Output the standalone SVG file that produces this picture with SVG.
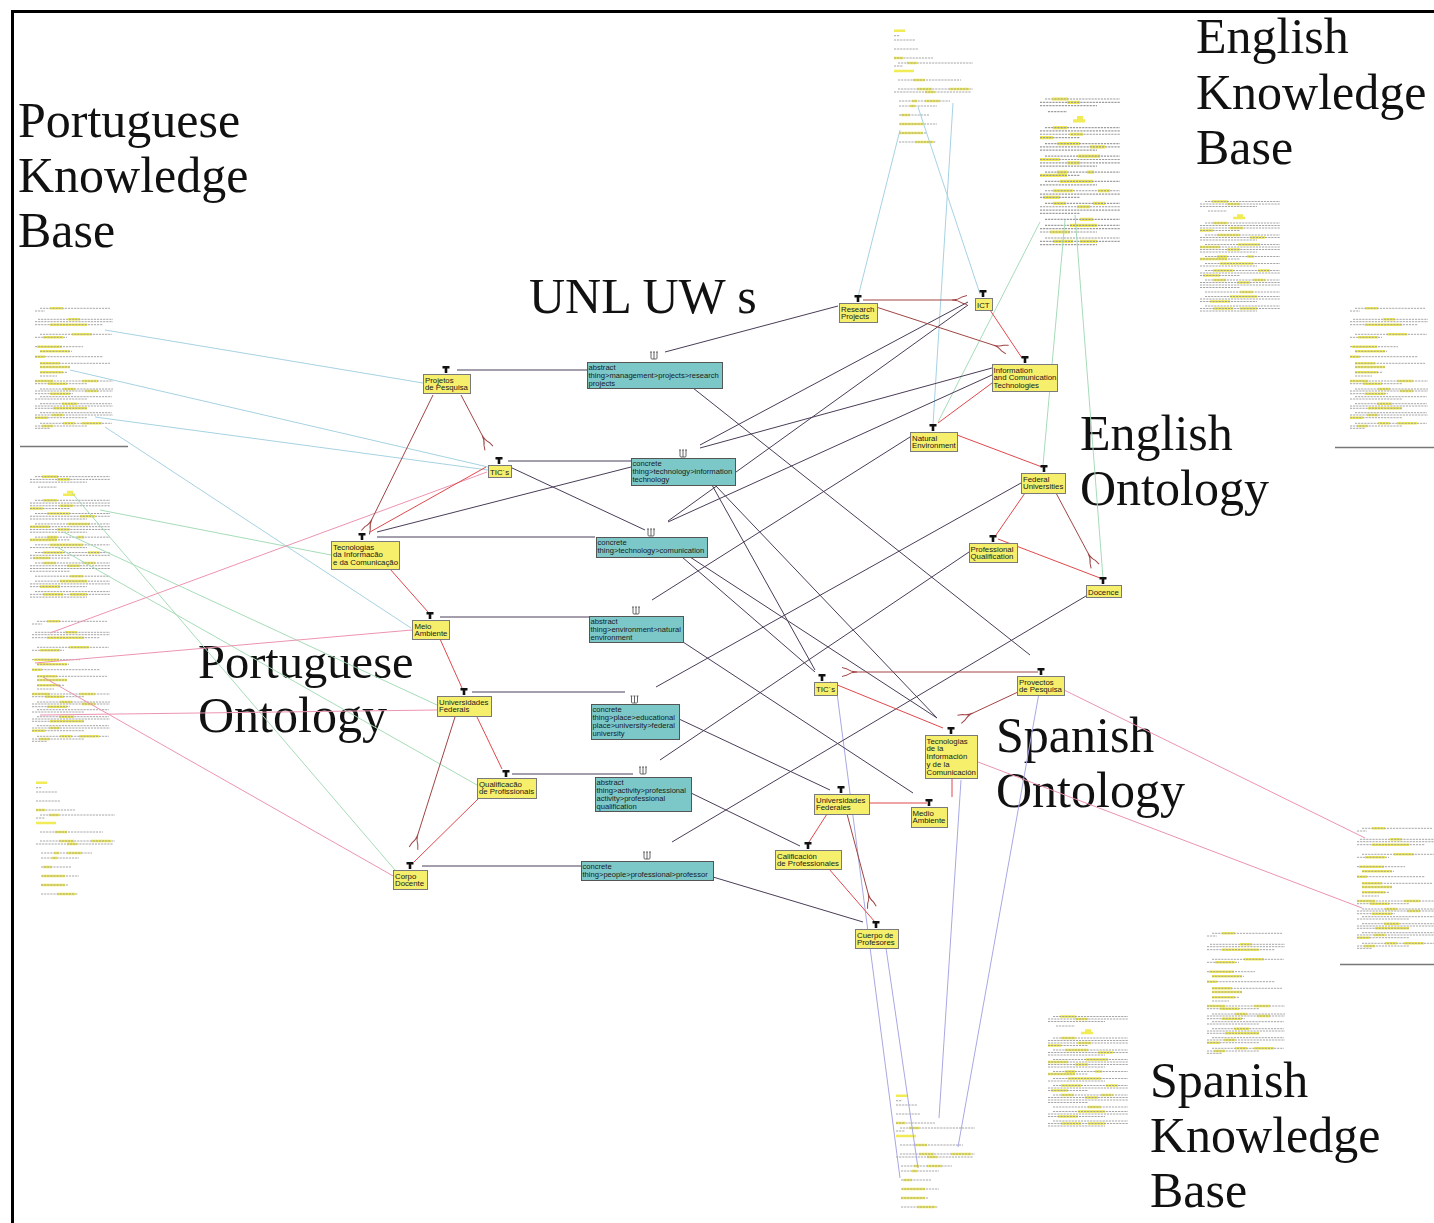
<svg xmlns="http://www.w3.org/2000/svg" xmlns:xlink="http://www.w3.org/1999/xlink" width="1434" height="1223" viewBox="0 0 1434 1223">
<style>
  .big{font-family:"Liberation Serif","Times New Roman",serif;font-size:50px;fill:#111}
  .nt{font-family:"Liberation Sans",Arial,sans-serif;font-size:7.8px;fill:#1a1a1a}
  .ut{font-family:"Liberation Sans",Arial,sans-serif;font-size:7.6px;fill:#1a1a1a}
  .yb{fill:#f5ef6c;stroke:#7a7a7a;stroke-width:1}
  .cb{fill:#7cc8c8;stroke:#555;stroke-width:1}
  .c{fill:none;stroke-width:1}
  .dk{stroke:#4a3d58}
  .rd{stroke:#e0484c}
  .dr{stroke:#a04444}
  .bl{stroke:#a6d2e2}
  .gr{stroke:#a6dcb8}
  .pk{stroke:#ec94b0}
  .lv{stroke:#a8a8e4}
  .tx{fill:none;stroke:#9c9c9c;stroke-width:0.9;stroke-dasharray:2.2 0.9}
  .hl{fill:none;stroke:#f1eb55;stroke-width:2.4}
  .sep{stroke:#777;stroke-width:1.5}
</style>
<defs>
  <!-- class (T) badge above concept boxes -->
  <path id="tee" d="M-3.5,-7.5h7v2.5h-2.2v4.5h-2.6v-4.5h-2.2z" fill="#111"/>
  <!-- UW badge above UNL boxes -->
  <path id="uw" d="M-3,-7v6q0,1 1,1h4q1,0 1,-1v-6M0,-7v7M-4,-7h2M-1,-7h2M2,-7h2" fill="none" stroke="#555" stroke-width="0.9"/>
  <!-- forked arrowhead used on hierarchy links -->
  <marker id="fork" viewBox="-1 -6 18 12" refX="0" refY="0" markerWidth="18" markerHeight="12" markerUnits="userSpaceOnUse" orient="auto">
    <path d="M0,0Q6,0 10,-3L15,-4.5M0,0Q6,0 10,3L15,4.5" fill="none" stroke="#a04444" stroke-width="1"/>
  </marker>
  <!-- knowledge base pages: list layout -->
  <g id="docA">
    <path class="hl" d="M1,2.7h11M1,30h9M14,35h10M1,43h20M20,52h12M24,61h15M56,61h20M32,64h10M19,73h5M32,73h15M17,78h5M8,87h9M7,96h23M6,105h24M22,114h18"/>
    <path class="tx" d="M1,7.7h6M1,12h21M1,21h24M1,30h39M5,35h75M1,38h9M5,52h63M5,61h75M1,64h77M6,73h51M6,78h38M6,87h30M6,96h38M6,105h27M6,114h37"/>
  </g>
  <!-- knowledge base pages: dense paragraphs -->
  <g id="docB">
    <path class="hl" d="M12,1.5h16M27,4h13M37,15.5h6M33,18h12M13,23h14M30,28h13M0,30.5h13M17,35h23M50,37.5h15M38,44.5h22M0,47h20M27,49.5h13M17,56.5h10M47,56.5h7M0,59h27M20,63.5h33M13,70.5h20M58,70.5h12M3,75.5h17M13,80h13M53,80h12M37,82.5h13M40,92h13M30,96.5h27M10,101.5h20M13,108.5h20M40,108.5h17"/>
    <path class="tx" d="M5,1.5h75M0,4h80M0,6.5h57M8,11h19M5,23h75M0,25.5h80M0,28h80M0,30.5h40M5,35h75M0,37.5h80M0,40h57M5,44.5h75M0,47h80M0,49.5h80M0,52h57M5,56.5h75M0,59h40M5,63.5h75M0,66h57M5,70.5h75M0,73h80M0,75.5h40M5,80h75M0,82.5h80M0,85h80M0,87.5h40M5,92h75M5,96.5h75M0,99h80M0,101.5h57M5,106h75M0,108.5h80M0,111h57"/>
  </g>
  <!-- knowledge base pages: mixed layout -->
  <g id="docD">
    <path class="hl" d="M17,3.3h13M35,14.3h12M17,19.7h37M39,29.3h20M10,32.3h20M4,41.7h25M7,46.3h30M2,51.7h10M7,58.3h20M7,62h30M7,67.3h23M2,76h18M49,76h16M15,78.7h19M30,84h12M52,86h13M17,88.7h20M29,98.7h15M20,103.3h34M19,110h11M2,112.7h13M30,118.3h12M49,118.3h20M9,121h11"/>
    <path class="tx" d="M7,3.3h70M2,6h10M5,14.3h75M2,16.7h78M2,19.7h68M7,29.3h72M2,32.3h32M2,41.7h48M7,46.3h32M2,51.7h68M7,58.3h70M7,62h30M7,67.3h27M7,71h17M2,76h78M2,78.7h52M7,84h73M2,86h78M2,88.7h38M7,91.7h72M2,94h52M7,98.7h72M2,101h78M2,103.3h52M7,107.7h72M2,110h78M2,112.7h52M7,118.3h72M2,121h52M2,123.3h15"/>
  </g>
</defs>

<rect width="1434" height="1223" fill="#fff"/>

<!-- frame -->
<path d="M12.5,1223V11.5H1434" fill="none" stroke="#000" stroke-width="3"/>

<!-- knowledge base documents -->
<g id="knowledge-bases">
  <use href="#docD" x="33" y="305"/>
  <path class="sep" d="M20,446.5H128"/>
  <use href="#docB" transform="translate(30,475) scale(1,1.1)"/>
  <use href="#docD" x="30" y="618"/>
  <use href="#docA" x="35" y="780"/>
  <use href="#docA" x="893" y="28"/>
  <use href="#docB" transform="translate(1040,97) scale(1,1.33)"/>
  <use href="#docB" x="1200" y="200"/>
  <use href="#docD" x="1348" y="305"/>
  <path class="sep" d="M1335,447.5H1434"/>
  <use href="#docD" x="1355" y="825"/>
  <path class="sep" d="M1340,964.5H1434"/>
  <use href="#docD" x="1205" y="930"/>
  <use href="#docB" x="1048" y="1015"/>
  <use href="#docA" x="895" y="1093"/>
</g>

<!-- section titles -->
<g id="titles">
  <text class="big" x="18" y="137">Portuguese</text>
  <text class="big" x="18" y="192">Knowledge</text>
  <text class="big" x="18" y="247">Base</text>
  <text class="big" x="1196" y="53">English</text>
  <text class="big" x="1196" y="109">Knowledge</text>
  <text class="big" x="1196" y="164">Base</text>
  <text class="big" x="529" y="313">UNL UW s</text>
  <text class="big" x="1080" y="450">English</text>
  <text class="big" x="1080" y="505">Ontology</text>
  <text class="big" x="198" y="678" style="font-size:48.5px">Portuguese</text>
  <text class="big" x="198" y="732">Ontology</text>
  <text class="big" x="996" y="752">Spanish</text>
  <text class="big" x="996" y="807">Ontology</text>
  <text class="big" x="1150" y="1097">Spanish</text>
  <text class="big" x="1150" y="1152">Knowledge</text>
  <text class="big" x="1150" y="1207">Base</text>
</g>

<!-- connectors -->
<g id="connectors" class="c">
  <!-- knowledge base annotations -->
  <path class="bl" d="M105,330L423,383M70,370L488,467M95,417L488,470M105,427L411,628M900,130L858,297M918,107L980,294M953,103L933,425"/>
  <path class="gr" d="M100,510L331,555M63,532L437,705M57,547L477,785M72,493L395,870M1040,222L938,422M1065,220L1043,465M1075,215L1103,578"/>
  <path class="pk" d="M50,633L487,472M35,663L412,630M40,715L437,710M43,677L395,877M1064,690L1365,838M978,762L1362,908"/>
  <path class="lv" d="M837,693L900,1178M1039,693L958,1147M961,780L939,1118M886,948L918,1168"/>
  <!-- concept to UW mappings -->
  <path class="dk" d="M457,370H587M508,461H631M377,537H595M440,617H589M472,692H625M512,774H633M422,866H581M510,467L645,530M377,532L631,467"/>
  <path class="dk" d="M665,352L838,306M700,445L968,302M700,448L992,368M668,521L968,305M668,522L992,375M652,600L910,437M656,687L1021,483M660,760L969,552M672,842L1086,596"/>
  <path class="dk" d="M693,388L1030,655M712,485L815,670M715,485L937,718M682,557L815,672M690,557L937,718M683,642L913,793M679,719L830,790M691,793L800,846M713,877L863,922"/>
  <!-- ontology hierarchy -->
  <path class="rd" d="M486,467L370,532M390,569L428,612M440,639L462,688M477,717L502,769M479,798L414,862"/>
  <path class="rd" d="M990,310L1022,358M992,383L938,423M957,435L1042,467M1025,493L996,535M998,539L1100,578"/>
  <path class="rd" d="M830,682L943,728M952,778V797M869,803H927M827,814L809,842M829,869L875,922"/>
  <path class="dr" marker-end="url(#fork)" d="M433,395L372,519"/>
  <path class="dr" marker-end="url(#fork)" d="M461,395L482,435"/>
  <path class="dr" marker-end="url(#fork)" d="M455,717L418,834"/>
  <path class="dr" marker-end="url(#fork)" d="M863,300H952"/>
  <path class="dr" marker-end="url(#fork)" d="M870,305L993,345"/>
  <path class="dr" marker-end="url(#fork)" d="M1056,493L1088,553"/>
  <path class="dr" marker-end="url(#fork)" d="M1038,672H857"/>
  <path class="dr" marker-end="url(#fork)" d="M1018,692L973,713"/>
  <path class="dr" marker-end="url(#fork)" d="M847,814L868,893"/>
</g>

<!-- UNL universal words -->
<g id="uw-research">
  <use href="#uw" x="654" y="359"/>
  <rect class="cb" x="587.5" y="362.5" width="135" height="26"/>
  <text class="ut" x="588.5" y="369.5">abstract<tspan x="588.5" dy="8">thing&gt;management&gt;projects&gt;research</tspan><tspan x="588.5" dy="8">projects</tspan></text>
</g>
<g id="uw-infotech">
  <use href="#uw" x="683" y="457"/>
  <rect class="cb" x="631.5" y="458.5" width="104" height="27"/>
  <text class="ut" x="632.5" y="465.5">concrete<tspan x="632.5" dy="8">thing&gt;technology&gt;information</tspan><tspan x="632.5" dy="8">technology</tspan></text>
</g>
<g id="uw-comunication">
  <use href="#uw" x="651" y="536"/>
  <rect class="cb" x="596.5" y="537.5" width="111" height="20"/>
  <text class="ut" x="597.5" y="544.5">concrete<tspan x="597.5" dy="8">thing&gt;technology&gt;comunication</tspan></text>
</g>
<g id="uw-environment">
  <use href="#uw" x="636" y="614"/>
  <rect class="cb" x="589.5" y="616.5" width="94" height="26"/>
  <text class="ut" x="590.5" y="623.5">abstract<tspan x="590.5" dy="8">thing&gt;environment&gt;natural</tspan><tspan x="590.5" dy="8">environment</tspan></text>
</g>
<g id="uw-university">
  <use href="#uw" x="634.5" y="703"/>
  <rect class="cb" x="591.5" y="704.5" width="88" height="35"/>
  <text class="ut" x="592.5" y="711.5">concrete<tspan x="592.5" dy="8">thing&gt;place&gt;educational</tspan><tspan x="592.5" dy="8">place&gt;university&gt;federal</tspan><tspan x="592.5" dy="8">university</tspan></text>
</g>
<g id="uw-qualification">
  <use href="#uw" x="643" y="774"/>
  <rect class="cb" x="595.5" y="777.5" width="96" height="34"/>
  <text class="ut" x="596.5" y="784.5">abstract<tspan x="596.5" dy="8">thing&gt;activity&gt;professional</tspan><tspan x="596.5" dy="8">activity&gt;professional</tspan><tspan x="596.5" dy="8">qualification</tspan></text>
</g>
<g id="uw-professor">
  <use href="#uw" x="647" y="859"/>
  <rect class="cb" x="581.5" y="861.5" width="132" height="19"/>
  <text class="ut" x="582.5" y="868.5">concrete<tspan x="582.5" dy="8">thing&gt;people&gt;professional&gt;professor</tspan></text>
</g>

<!-- Portuguese ontology -->
<g id="pt-projetos">
  <use href="#tee" x="446" y="373.5"/>
  <rect class="yb" x="423.5" y="374.5" width="47" height="19"/>
  <text class="nt" x="425" y="382.5">Projetos<tspan x="425" dy="7.8">de Pesquisa</tspan></text>
</g>
<g id="pt-tics">
  <use href="#tee" x="499" y="464.5"/>
  <rect class="yb" x="488.5" y="465.5" width="23" height="12"/>
  <text class="nt" x="490" y="474.5">TIC´s</text>
</g>
<g id="pt-tecnologias">
  <use href="#tee" x="362" y="540.5"/>
  <rect class="yb" x="331.5" y="541.5" width="68" height="28"/>
  <text class="nt" x="333" y="549.5">Tecnologias<tspan x="333" dy="7.8">da Informacão</tspan><tspan x="333" dy="7.8">e da Comunicação</tspan></text>
</g>
<g id="pt-meio">
  <use href="#tee" x="430" y="619.5"/>
  <rect class="yb" x="412.5" y="620.5" width="37" height="19"/>
  <text class="nt" x="414.5" y="628.5">Meio<tspan x="414.5" dy="7.8">Ambiente</tspan></text>
</g>
<g id="pt-universidades">
  <use href="#tee" x="464" y="695.5"/>
  <rect class="yb" x="437.5" y="696.5" width="54" height="20"/>
  <text class="nt" x="439" y="704.5">Universidades<tspan x="439" dy="7.8">Federais</tspan></text>
</g>
<g id="pt-qualificacao">
  <use href="#tee" x="506" y="777.5"/>
  <rect class="yb" x="477.5" y="778.5" width="59" height="20"/>
  <text class="nt" x="479" y="786.5">Qualificacão<tspan x="479" dy="7.8">de Profissionais</tspan></text>
</g>
<g id="pt-corpo">
  <use href="#tee" x="410" y="869.5"/>
  <rect class="yb" x="393.5" y="870.5" width="34" height="19"/>
  <text class="nt" x="395" y="878.5">Corpo<tspan x="395" dy="7.8">Docente</tspan></text>
</g>

<!-- English ontology -->
<g id="en-research">
  <use href="#tee" x="858" y="302.5"/>
  <rect class="yb" x="839.5" y="303.5" width="38" height="19"/>
  <text class="nt" x="841" y="311.5">Research<tspan x="841" dy="7.8">Projects</tspan></text>
</g>
<g id="en-ict">
  <use href="#tee" x="983" y="297.5"/>
  <rect class="yb" x="975.5" y="298.5" width="17" height="12"/>
  <text class="nt" x="977" y="307.5">ICT</text>
</g>
<g id="en-infocomm">
  <use href="#tee" x="1025" y="363.5"/>
  <rect class="yb" x="992.5" y="364.5" width="65" height="27"/>
  <text class="nt" x="993.5" y="372.5">Information<tspan x="993.5" dy="7.8">and Comunication</tspan><tspan x="993.5" dy="7.8">Technologies</tspan></text>
</g>
<g id="en-natural">
  <use href="#tee" x="933" y="431.5"/>
  <rect class="yb" x="910.5" y="432.5" width="47" height="19"/>
  <text class="nt" x="912" y="440.5">Natural<tspan x="912" dy="7.8">Environment</tspan></text>
</g>
<g id="en-federal">
  <use href="#tee" x="1044" y="472.5"/>
  <rect class="yb" x="1021.5" y="473.5" width="44" height="20"/>
  <text class="nt" x="1023" y="481.5">Federal<tspan x="1023" dy="7.8">Universities</tspan></text>
</g>
<g id="en-professional">
  <use href="#tee" x="993" y="542.5"/>
  <rect class="yb" x="969.5" y="543.5" width="48" height="19"/>
  <text class="nt" x="970.5" y="551.5">Professional<tspan x="970.5" dy="7.8">Qualification</tspan></text>
</g>
<g id="en-docence">
  <use href="#tee" x="1103" y="584.5"/>
  <rect class="yb" x="1086.5" y="585.5" width="35" height="12"/>
  <text class="nt" x="1088" y="594.5">Docence</text>
</g>

<!-- Spanish ontology -->
<g id="es-tics">
  <use href="#tee" x="822" y="681.5"/>
  <rect class="yb" x="814.5" y="682.5" width="23" height="13"/>
  <text class="nt" x="816" y="691.5">TIC´s</text>
</g>
<g id="es-proyectos">
  <use href="#tee" x="1041" y="675.5"/>
  <rect class="yb" x="1017.5" y="676.5" width="47" height="19"/>
  <text class="nt" x="1019" y="684.5">Provectos<tspan x="1019" dy="7.8">de Pesquisa</tspan></text>
</g>
<g id="es-tecnologias">
  <use href="#tee" x="951" y="734.5"/>
  <rect class="yb" x="925.5" y="735.5" width="52" height="43"/>
  <text class="nt" x="926.5" y="743.5">Tecnologias<tspan x="926.5" dy="7.8">de la</tspan><tspan x="926.5" dy="7.8">Información</tspan><tspan x="926.5" dy="7.8">y de la</tspan><tspan x="926.5" dy="7.8">Comunicación</tspan></text>
</g>
<g id="es-universidades">
  <use href="#tee" x="841" y="793.5"/>
  <rect class="yb" x="814.5" y="794.5" width="55" height="20"/>
  <text class="nt" x="816" y="802.5">Universidades<tspan x="816" dy="7.8">Federales</tspan></text>
</g>
<g id="es-medio">
  <use href="#tee" x="929" y="806.5"/>
  <rect class="yb" x="911.5" y="807.5" width="36" height="20"/>
  <text class="nt" x="912.5" y="815.5">Medio<tspan x="912.5" dy="7.8">Ambiente</tspan></text>
</g>
<g id="es-calificacion">
  <use href="#tee" x="808" y="849.5"/>
  <rect class="yb" x="775.5" y="850.5" width="66" height="19"/>
  <text class="nt" x="777" y="858.5">Calificación<tspan x="777" dy="7.8">de Professionales</tspan></text>
</g>
<g id="es-cuerpo">
  <use href="#tee" x="876" y="928.5"/>
  <rect class="yb" x="855.5" y="929.5" width="43" height="19"/>
  <text class="nt" x="857" y="937.5">Cuerpo de<tspan x="857" dy="7.8">Profesores</tspan></text>
</g>
</svg>
